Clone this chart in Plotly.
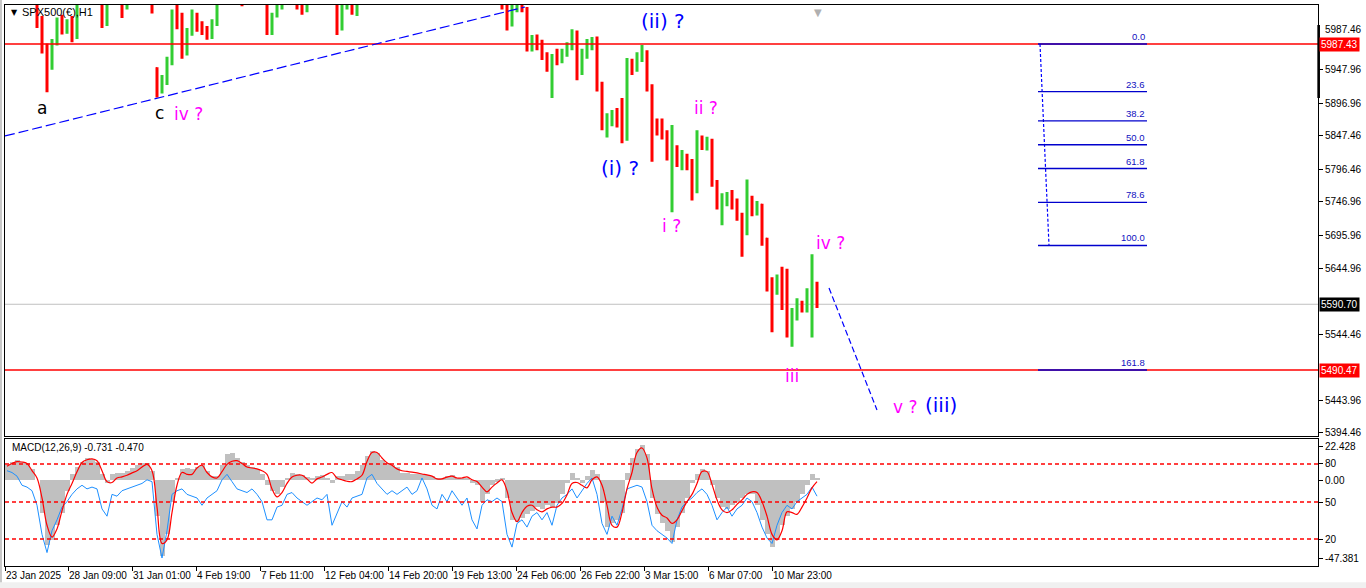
import plotly.graph_objects as go

# ---------------- data ----------------
symbol_title = "SPX500(€),H1"
macd_title = "MACD(12,26,9) -0.731 -0.470"

# OHLC, each bar aggregates 5 hourly candles
bar_open = [6060,6070,6075,6072,6065,6058,6050,6025,5980,5960,
            5990,6022,6008,6015,6000,6050,6065,6072,6068,6055,
            6040,6055,6066,6058,6045,6060,6072,6066,6056,6052,
            5950,5915,5935,5962,6030,6020,5975,6005,6030,6012,
            6008,6000,6020,6050,6062,6070,6080,6074,6058,6068,
            6076,6072,6060,6015,6030,6045,6055,6064,6060,6046,
            6040,6055,6065,6074,6070,6062,6056,6012,6045,6056,
            6040,6052,6060,6070,6078,6075,6080,6088,6084,6078,
            6082,6092,6098,6094,6090,6096,6104,6100,6092,6086,
            6090,6098,6094,6082,6076,6070,6066,6062,6068,6064,
            6046,6020,6046,6048,6040,5982,5995,5985,5968,5952,
            5966,5962,5975,5984,6004,5945,5972,5990,5994,5925,
            5862,5870,5878,5866,5845,5955,5950,5968,5975,5922,
            5866,5862,5850,5815,5830,5810,5815,5800,5765,5845,
            5832,5840,5778,5742,5752,5758,5745,5725,5700,5750,
            5735,5742,5690,5622,5620,5630,5600,5560,5575,5588,
            5585,5610,5615]
bar_high = [6078,6082,6085,6080,6075,6070,6060,6030,5988,5995,
            6028,6032,6025,6030,6055,6070,6080,6085,6075,6060,
            6062,6072,6075,6064,6065,6078,6080,6072,6062,6058,
            5952,5940,5968,6040,6050,6035,6012,6040,6035,6022,
            6015,6025,6055,6068,6078,6085,6090,6080,6072,6082,
            6086,6078,6062,6035,6052,6060,6070,6075,6064,6058,
            6060,6070,6080,6085,6078,6068,6060,6048,6062,6060,
            6052,6066,6074,6082,6088,6084,6092,6098,6092,6086,
            6096,6104,6108,6102,6100,6110,6114,6106,6100,6094,
            6102,6106,6100,6090,6084,6080,6074,6072,6076,6068,
            6052,6052,6056,6056,6044,6001,6002,5994,5975,5972,
            5980,5980,5990,6010,6008,5980,5995,5998,5999,5930,
            5882,5887,5890,5905,5966,5965,5975,5986,5978,5926,
            5874,5874,5856,5864,5833,5826,5820,5812,5856,5848,
            5846,5843,5780,5760,5762,5765,5752,5730,5781,5756,
            5748,5744,5692,5632,5636,5648,5645,5585,5600,5596,
            5615,5667,5625]
bar_low = [6055,6062,6066,6060,6052,6050,6012,5973,5914,5948,
           5985,6002,6003,5990,5995,6048,6058,6062,6052,6012,
           6015,6050,6052,6027,6040,6055,6060,6050,6048,6034,
           5906,5912,5925,5955,6010,5965,5970,6000,6006,6001,
           5994,5995,6015,6048,6055,6064,6068,6045,6052,6060,
           6066,6055,6001,6001,6028,6040,6048,6055,6040,6032,
           6036,6050,6060,6066,6058,6050,6001,6008,6040,6032,
           6030,6050,6055,6064,6070,6066,6074,6080,6072,6068,
           6076,6086,6090,6084,6082,6090,6096,6088,6080,6076,
           6084,6088,6078,6070,6064,6060,6056,6054,6058,6040,
           6008,6014,6036,6036,5976,5976,5978,5963,5945,5905,
           5955,5958,5968,5978,5932,5940,5965,5978,5915,5856,
           5845,5862,5860,5836,5840,5940,5945,5960,5915,5808,
           5848,5842,5810,5731,5800,5795,5795,5749,5760,5826,
           5825,5770,5735,5711,5740,5735,5718,5663,5696,5725,
           5726,5680,5610,5548,5605,5582,5540,5526,5566,5578,
           5578,5540,5585]
bar_close = [6070,6075,6072,6065,6058,6055,6020,5980,5962,5990,
             6020,6008,6015,6000,6050,6065,6072,6068,6058,6040,
             6055,6066,6058,6045,6060,6072,6066,6056,6052,6040,
             5915,5935,5962,6030,6020,5975,6005,6035,6012,6008,
             6000,6020,6050,6062,6070,6080,6074,6058,6068,6076,
             6072,6060,6015,6028,6045,6055,6064,6060,6046,6040,
             6055,6065,6074,6070,6062,6056,6012,6045,6056,6040,
             6048,6060,6070,6078,6075,6080,6088,6084,6078,6082,
             6092,6098,6094,6090,6096,6104,6100,6092,6086,6090,
             6098,6094,6082,6076,6070,6066,6062,6068,6064,6046,
             6020,6046,6048,6040,5982,5995,5985,5968,5952,5966,
             5962,5975,5984,6004,5945,5972,5990,5994,5925,5862,
             5870,5878,5866,5845,5955,5950,5968,5975,5922,5866,
             5862,5850,5815,5830,5810,5815,5800,5765,5845,5832,
             5840,5778,5742,5752,5758,5745,5725,5700,5750,5735,
             5742,5690,5622,5620,5630,5600,5560,5575,5588,5585,
             5610,5615,5590.70]

macd_hist = [8,10,11,10,9.5,6,0,-18,-36,-33,
             -25,-18,-6,3,7,10,12,11.5,10,3,
             -2,3,4,4,5,6.5,8,9,9.5,5,
             -20,-42,-30,-12,1,6,6.5,6,7,8,
             5,2,2,8,14,15,12,10,8,7,
             6,3,-3,-6,-8,-4,1,3.5,3,2.5,
             1.5,1,2,2.5,1,-2,2,2,3,3,
             5,8,13,16,15,11,9,8,7,4,
             3.5,3,3,3,2.5,2,0.5,1,2,2.5,
             1,0.5,1,-2,-3,-12,-8,-3,-1,1,
             -10,-22,-23,-21,-19,-17,-15,-16,-14,-15,
             -13,-8,-2,3.6,1,-2,2,5.5,3,-12,
             -26,-24,-22,-18,4,12,17,19,14,-10,
             -19,-24,-28,-34,-26,-18,-10,-2,3,6,
             5,-3,-10,-15,-16,-14,-12,-10,-8,-8,
             -14,-22,-30,-37,-33,-25,-20,-16,-12,-8,
             -3,3,1]
macd_signal = [7.5,9,10,9.8,9,5,1,-10,-25,-31.5,
               -27,-17,-8,-2,4.4,9.5,11,11.5,10.5,5,
               -1,-1.5,1,1.6,2.5,3.8,5,7,8.5,5,
               -15,-35,-33,-18,-3,4,3,3,6.5,8,
               4,1.6,1,4.5,8.5,10.2,10.5,9,7,6.5,
               6,5,3,-5,-9.4,-7,-2,1.5,2.5,2.5,
               0.5,-1.8,0.5,1.5,3,4,1,0,-0.8,-1,
               0.5,2.5,10,15,15,12,9.4,8,6,5,
               4.6,4.2,3.8,3.2,2.7,2,0.5,0.5,1.5,2,
               1,1,1.6,0,-1,-4,-6.6,-4,-1.8,0,
               -6,-18,-23,-18,-14.5,-14,-16.5,-17.6,-16,-15,
               -15,-13,-8.3,-2,-1.5,-3,-4.4,0,1.6,-3,
               -14,-25,-26,-18,-5,4,15,17.5,12,-5,
               -15,-19.5,-21,-24,-22,-17,-12,-8,-2,4.5,
               4.5,-2.5,-11,-16.5,-18,-16.5,-13.5,-11,-8,-6.6,
               -7,-12,-20,-30,-33,-28,-17.6,-18,-19,-15,
               -10,-4.4,-1]
macd_fast = [5,4,2,-3,-4,-6,-14,-30,-40,-28,
             -22,-15,-12,-8,-5,-3,-5,-4,-5,-16,
             -20,-8,-9,-6,-5,-4,-3,-2,0,-1,
             -30,-43,-28,-8,-6,-5,-8,-9,-10,-14,
             -10,-8,-6,0,3,-1,-5,-6,-7,-5,
             -8,-12,-22,-22,-15,-14,-8,-7,-10,-12,
             -14,-12,-10,-11,-8,-25,-18,-12,-15,-10,
             -9,-8,1,3,-2,-5,-8,-6,-8,-6,
             -4,-8,-6,1,-5,-14,-16,-8,-12,-6,
             -10,-14,-10,-22,-27,-14,-11,-12,-10,-12,
             -30,-37,-24,-22,-26,-20,-18,-22,-18,-25,
             -14,-10,-8,-5,-10,-6,-2,1,-8,-24,
             -30,-20,-25,-16,-5,-4,-3,-4,-12,-25,
             -28,-30,-32,-35,-22,-15,-12,-10,-7,-5,
             -8,-14,-22,-18,-15,-20,-16,-14,-10,-12,
             -18,-26,-32,-35,-25,-18,-14,-16,-12,-10,
             -8,-4,-9]

date_labels = ["23 Jan 2025", "28 Jan 09:00", "31 Jan 01:00", "4 Feb 19:00", "7 Feb 11:00",
               "12 Feb 04:00", "14 Feb 20:00", "19 Feb 13:00", "24 Feb 06:00", "26 Feb 22:00",
               "3 Mar 15:00", "6 Mar 07:00", "10 Mar 23:00"]
date_hours = [0, 63, 127, 191, 255, 319, 383, 447, 511, 575, 639, 703, 767]

price_ticks = [5947.96, 5896.96, 5847.46, 5796.46, 5746.96, 5695.96,
               5644.96, 5544.46, 5443.96, 5394.46]
top_tick = 5987.46
level_high = 5987.43
level_low = 5490.47
last_price = 5590.70

fib_start = 5987.43
fib_end = 5680.29
fib_ratios = [0.0, 23.6, 38.2, 50.0, 61.8, 78.6, 100.0, 161.8]

macd_tick_vals = [18.58, 8.69, -0.49, -12.2, -32.54, -43.53]
macd_tick_text = ["22.428", "80", "0.00", "50", "20", "-47.381"]
macd_levels = [8.69, -12.2, -32.54]

# ---------------- figure ----------------
n = len(bar_close)
bar_hours = [2 + 5 * i for i in range(n)]

GREEN = "#32cd32"
RED = "#ff0000"
BLUE = "#0000ff"
MAG = "#ff00ff"
FONT = "Liberation Sans"

fig = go.Figure()

fig.add_trace(go.Ohlc(
    x=bar_hours, open=bar_open, high=bar_high, low=bar_low, close=bar_close,
    increasing=dict(line=dict(color=GREEN, width=3)),
    decreasing=dict(line=dict(color=RED, width=3)),
    tickwidth=0.15, xaxis="x", yaxis="y", hoverinfo="skip"))

fig.add_trace(go.Bar(x=bar_hours, y=macd_hist, width=5, marker=dict(color="#c0c0c0", line=dict(width=0)),
                     xaxis="x2", yaxis="y2", hoverinfo="skip"))
fig.add_trace(go.Scatter(x=bar_hours, y=macd_fast, mode="lines", line=dict(color="#1e90ff", width=1),
                         xaxis="x2", yaxis="y2", hoverinfo="skip"))
fig.add_trace(go.Scatter(x=bar_hours, y=macd_signal, mode="lines", line=dict(color=RED, width=1.2, shape="spline"),
                         xaxis="x2", yaxis="y2", hoverinfo="skip"))

XR = [0, 1313]
main_lo, main_hi = 5389.86, 6046.88

axis_common = dict(showgrid=False, zeroline=False, showline=True, linecolor="black",
                   linewidth=1, mirror=True, automargin=False)

fig.update_layout(
    width=1366, height=588,
    margin=dict(l=5, r=48, t=5, b=22),
    paper_bgcolor="white", plot_bgcolor="white",
    showlegend=False, bargap=0,
    xaxis=dict(domain=[0, 1], range=XR, anchor="y", showticklabels=False, ticks="",
               rangeslider=dict(visible=False), **axis_common),
    yaxis=dict(domain=[0.23173, 1], range=[main_lo, main_hi], side="right", anchor="x",
               tickvals=price_ticks, ticktext=[f"{v:.2f}" for v in price_ticks],
               ticks="outside", ticklen=4, tickcolor="black",
               tickfont=dict(family=FONT, size=10, color="black"), **axis_common),
    xaxis2=dict(domain=[0, 1], range=XR, anchor="y2", tickvals=date_hours, ticktext=date_labels,
                ticks="outside", ticklen=4, tickcolor="black", ticklabelposition="outside right",
                tickangle=0,
                tickfont=dict(family=FONT, size=10, color="black"), **axis_common),
    yaxis2=dict(domain=[0, 0.22638], range=[-47.381, 22.428], side="right", anchor="x2",
                tickvals=macd_tick_vals, ticktext=macd_tick_text,
                ticks="outside", ticklen=4, tickcolor="black",
                tickfont=dict(family=FONT, size=10, color="black"), **axis_common),
)

# horizontal levels
fig.add_shape(type="line", xref="paper", x0=0, x1=1, yref="y", y0=last_price, y1=last_price,
              line=dict(color="#c0c0c0", width=1), layer="below")
for lv in (level_high, level_low):
    fig.add_shape(type="line", xref="paper", x0=0, x1=1, yref="y", y0=lv, y1=lv,
                  line=dict(color=RED, width=1.5))

# trend line and projection
fig.add_shape(type="line", xref="x", yref="y", x0=0, y0=5847.2, x1=520, y1=6043.8,
              line=dict(color=BLUE, width=1.2, dash="10px,4px"))
fig.add_shape(type="line", xref="x", yref="y", x0=824, y0=5615.5, x1=872, y1=5429.5,
              line=dict(color=BLUE, width=1.2, dash="6px,3px"))

# fibonacci
fib_x0, fib_x1 = 1033, 1142
fig.add_shape(type="line", xref="x", yref="y", x0=1035, y0=fib_start, x1=1044, y1=fib_end,
              line=dict(color=BLUE, width=1.2, dash="3px,2px"))
for r in fib_ratios:
    lv = fib_start - (fib_start - fib_end) * r / 100.0
    fig.add_shape(type="line", xref="x", yref="y", x0=fib_x0, x1=fib_x1, y0=lv, y1=lv,
                  line=dict(color="#0000cd", width=1.3))
    fig.add_annotation(x=fib_x1, y=lv, xref="x", yref="y", text=f"{r:.1f}", showarrow=False,
                       xanchor="right", yanchor="bottom", yshift=0,
                       font=dict(family=FONT, size=9.5, color="#1010c0"))

# MACD levels
for lv in macd_levels:
    fig.add_shape(type="line", xref="paper", x0=0, x1=1, yref="y2", y0=lv, y1=lv,
                  line=dict(color=RED, width=1.3, dash="4px,3px"))

# top price-axis label pushed up by the red level label
fig.add_annotation(x=1, xref="paper", y=level_high, yref="y", text=f"{top_tick:.2f}", showarrow=False,
                   xanchor="left", yanchor="bottom", xshift=5, yshift=7,
                   font=dict(family=FONT, size=10, color="black"))

# price labels on the right
for txt, yv, bg in ((f"{level_high:.2f}", level_high, RED),
                    (f"{level_low:.2f}", level_low, RED),
                    (f"{last_price:.2f}", last_price, "black")):
    fig.add_annotation(x=1, xref="paper", y=yv, yref="y", text=txt, showarrow=False,
                       xanchor="left", yanchor="middle", xshift=1, bgcolor=bg, borderpad=1,
                       font=dict(family=FONT, size=10, color="white"))

# thick marker on the price axis
fig.add_shape(type="rect", xref="paper", x0=0.9995, x1=1.0015, yref="y", y0=5905.1, y1=6016.4,
              fillcolor="black", line=dict(width=0))

# wave labels
waves = [
    ("a", 37, 5889.9, "black", 17),
    ("c", 154, 5882.2, "black", 17),
    ("iv ?", 183, 5880.7, MAG, 17),
    ("(ii) ?", 658, 6022.5, BLUE, 20),
    ("(i) ?", 615, 5798.4, BLUE, 20),
    ("ii ?", 701, 5889.9, MAG, 17),
    ("i ?", 666, 5710.0, MAG, 17),
    ("iv ?", 825, 5684.1, MAG, 17),
    ("iii", 787, 5481.3, MAG, 17),
    ("v ?", 900, 5434.1, MAG, 17),
    ("(iii)", 936, 5437.1, BLUE, 20),
]
for txt, xv, yv, col, sz in waves:
    fig.add_annotation(x=xv, y=yv, xref="x", yref="y", text=txt, showarrow=False,
                       xanchor="center", yanchor="middle",
                       font=dict(family="DejaVu Sans", size=sz, color=col))

# titles
fig.add_annotation(x=0.0030, y=0.9875, xref="paper", yref="paper", text="▼", showarrow=False,
                   xanchor="left", yanchor="middle", font=dict(family="DejaVu Sans", size=8, color="black"))
fig.add_annotation(x=0.0118, y=0.9875, xref="paper", yref="paper", text=symbol_title, showarrow=False,
                   xanchor="left", yanchor="middle", font=dict(family=FONT, size=11, color="black"))
fig.add_annotation(x=0.0038, y=0.2121, xref="paper", yref="paper", text=macd_title, showarrow=False,
                   xanchor="left", yanchor="middle", font=dict(family=FONT, size=10, color="black"))
# chart-shift marker
fig.add_annotation(x=813, y=1.0, xref="x", yref="paper", text="▼", showarrow=False,
                   xanchor="center", yanchor="top", font=dict(family="DejaVu Sans", size=10, color="#b0b0b0"))

# window frame bits
fig.add_shape(type="rect", xref="paper", yref="paper", x0=-0.0038, x1=-0.0023, y0=-0.04, y1=1.01,
              fillcolor="#c8c8c8", line=dict(width=0))
fig.add_shape(type="rect", xref="paper", yref="paper", x0=-0.004, x1=1.04, y0=-0.0400, y1=-0.0290,
              fillcolor="#f0f0f0", line=dict(width=0))

fig.write_html("out.html", config={"displayModeBar": False},
               post_script="document.body.style.margin='0';")
